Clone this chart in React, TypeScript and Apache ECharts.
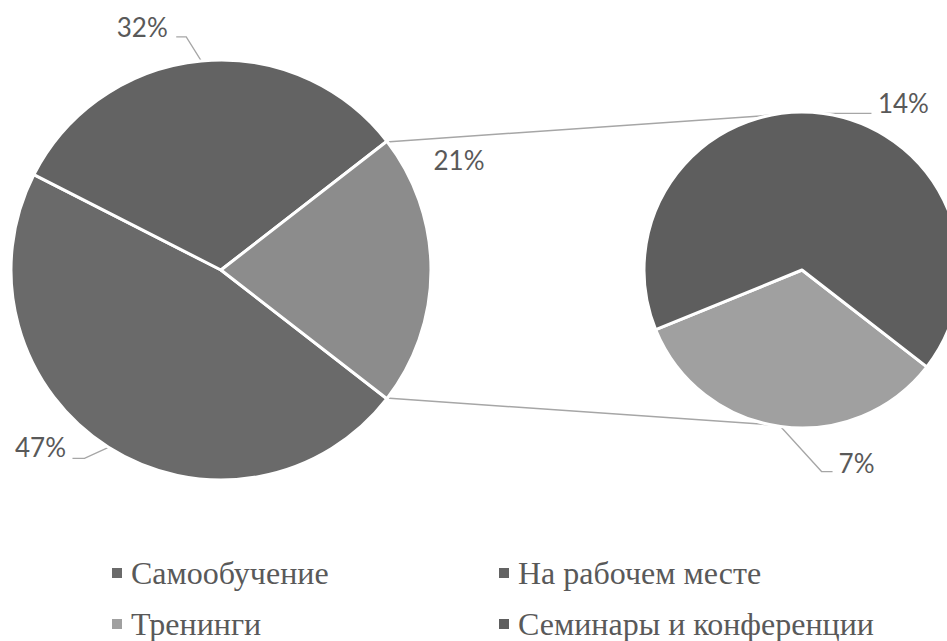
import { useEffect, useRef } from "react";
import * as echarts from "echarts";

// Main pie: two categories shown directly plus one aggregated slice
const mainCategories = ["Самообучение", "На рабочем месте"];
const mainValues = [47, 32];
// Secondary pie: breakdown of the aggregated slice
const detailCategories = ["Тренинги", "Семинары и конференции"];
const detailValues = [7, 14];
const otherName = "Прочее";

// legend entries in a 2 x 2 grid (row by row)
const legendRows = [
  ["Самообучение", "На рабочем месте"],
  ["Тренинги", "Семинары и конференции"],
];

const mainColors = ["#6a6a6a", "#636363", "#8c8c8c"];
const detailColors = ["#a0a0a0", "#5e5e5e"];

const MAIN = { cx: 221, cy: 270, r: 210 };
const DETAIL = { cx: 802, cy: 270, r: 158 };
const LEGEND_COLS = [110, 497];
const LEGEND_ROWS = [557, 608];

const sum = (a: number[]) => a.reduce((s, v) => s + v, 0);
const otherValue = sum(detailValues);
const mainAll = [...mainValues, otherValue];
const mainTotal = sum(mainAll);
// the aggregated slice is centred on the right-hand side
const startAngle = -(otherValue / mainTotal) * 180;

type Geo = { cx: number; cy: number; r: number };

function pointAt(geo: Geo, deg: number, r = geo.r): [number, number] {
  const a = (deg * Math.PI) / 180;
  return [geo.cx + r * Math.cos(a), geo.cy - r * Math.sin(a)];
}

function midAngle(values: number[], idx: number, start: number) {
  const total = sum(values);
  const before = sum(values.slice(0, idx));
  return start - ((before + values[idx] / 2) / total) * 360;
}

// label text offset and leader-line bends, relative to the slice's outer mid point
const mainLabelPlacement = [
  { text: [-68, 0], line: [[-24, 11], [-36, 11]] },
  { text: [-59, -34], line: [[-15, -24], [-25, -24]] },
  { text: [28, -110], line: null },
];
const detailLabelPlacement = [
  { text: [76, 36], line: [[41, 45], [52, 45]] },
  { text: [80, -10], line: [[24, 0], [48, 0]] },
];

function makeLayout(values: number[], geo: Geo, placement: any[]) {
  return (params: any) => {
    const i = params.dataIndex;
    const p = placement[i];
    const [ex, ey] = pointAt(geo, midAngle(values, i, startAngle));
    const out: any = {
      x: ex + p.text[0],
      y: ey + p.text[1],
      align: "center",
      verticalAlign: "middle",
    };
    if (p.line) {
      out.labelLinePoints = [
        [ex, ey],
        [ex + p.line[0][0], ey + p.line[0][1]],
        [ex + p.line[1][0], ey + p.line[1][1]],
      ];
    }
    return out;
  };
}

const labelFont = {
  fontFamily: "Lato, 'Open Sans', sans-serif",
  fontSize: 26,
  color: "#595959",
};

export default function App() {
  const ref = useRef<HTMLDivElement>(null);

  useEffect(() => {
    document.body.style.margin = "0";
    if (!ref.current) return;
    const chart = echarts.init(ref.current, null, { renderer: "svg" });

    const otherHalf = (otherValue / mainTotal) * 180;
    const upperMain = pointAt(MAIN, otherHalf, MAIN.r - 1);
    const lowerMain = pointAt(MAIN, -otherHalf, MAIN.r - 1);
    const upperDetail: [number, number] = [DETAIL.cx, DETAIL.cy - DETAIL.r + 1];
    const lowerDetail: [number, number] = [DETAIL.cx, DETAIL.cy + DETAIL.r - 1];

    const mainData = mainAll.map((v, i) => ({
      name: i < mainCategories.length ? mainCategories[i] : otherName,
      value: v,
      itemStyle: { color: mainColors[i] },
      ...(i === mainCategories.length ? { labelLine: { show: false } } : {}),
    }));
    const detailData = detailValues.map((v, i) => ({
      name: detailCategories[i],
      value: v,
      itemStyle: { color: detailColors[i] },
    }));

    const legendBase = {
      padding: 0,
      icon: "rect",
      itemWidth: 12,
      itemHeight: 12,
      selectedMode: false,
      textStyle: {
        fontFamily: "'Liberation Serif', 'Times New Roman', serif",
        fontSize: 32,
        lineHeight: 24,
        color: "#595959",
        padding: [0, 0, 0, 3],
      },
    };

    const legends = legendRows.flatMap((row, r) =>
      row.map((name, c) => ({
        ...legendBase,
        left: LEGEND_COLS[c],
        top: LEGEND_ROWS[r],
        data: [name],
      }))
    );

    chart.setOption({
      animation: false,
      backgroundColor: "#ffffff",
      legend: legends,
      graphic: [
        {
          type: "line",
          z: 0,
          shape: { x1: upperMain[0], y1: upperMain[1], x2: upperDetail[0], y2: upperDetail[1] },
          style: { stroke: "#a6a6a6", lineWidth: 1.5 },
        },
        {
          type: "line",
          z: 0,
          shape: { x1: lowerMain[0], y1: lowerMain[1], x2: lowerDetail[0], y2: lowerDetail[1] },
          style: { stroke: "#a6a6a6", lineWidth: 1.5 },
        },
      ],
      series: [
        {
          type: "pie",
          center: [MAIN.cx, MAIN.cy],
          radius: MAIN.r,
          startAngle,
          clockwise: true,
          avoidLabelOverlap: false,
          data: mainData,
          itemStyle: { borderColor: "#ffffff", borderWidth: 3 },
          label: { show: true, formatter: "{c}%", ...labelFont },
          labelLine: { show: true, lineStyle: { color: "#a6a6a6", width: 1.3 } },
          labelLayout: makeLayout(mainAll, MAIN, mainLabelPlacement),
          emphasis: { disabled: true },
        },
        {
          type: "pie",
          center: [DETAIL.cx, DETAIL.cy],
          radius: DETAIL.r,
          startAngle,
          clockwise: true,
          avoidLabelOverlap: false,
          data: detailData,
          itemStyle: { borderColor: "#ffffff", borderWidth: 3 },
          label: { show: true, formatter: "{c}%", ...labelFont },
          labelLine: { show: true, lineStyle: { color: "#a6a6a6", width: 1.3 } },
          labelLayout: makeLayout(detailValues, DETAIL, detailLabelPlacement),
          emphasis: { disabled: true },
        },
      ],
    });

    return () => chart.dispose();
  }, []);

  return <div ref={ref} style={{ width: 947, height: 641 }} />;
}
